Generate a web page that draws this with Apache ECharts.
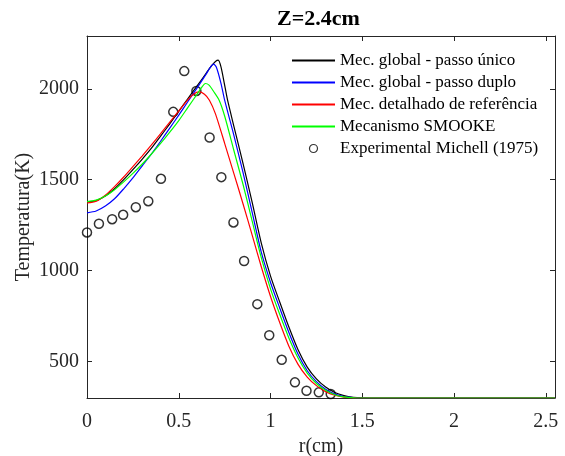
<!DOCTYPE html>
<html>
<head>
<meta charset="utf-8">
<script src="https://cdn.jsdelivr.net/npm/echarts@6/dist/echarts.min.js"></script>
<style>
    html, body { margin: 0; padding: 0; background: #fff; }
    #chart { width: 565px; height: 456px; }
</style>
</head>
<body>
<div id="chart"></div>
<script>
// Dados
var xTicks = [0, 0.5, 1, 1.5, 2, 2.5];
var yTicks = [500, 1000, 1500, 2000];

var seriesNames = [
    'Mec. global - passo único',
    'Mec. global - passo duplo',
    'Mec. detalhado de referência',
    'Mecanismo SMOOKE',
    'Experimental Michell (1975)'
];

// passo único (preto)
var rUnico = [0, 0.05, 0.1, 0.15, 0.2, 0.25, 0.3, 0.35, 0.4, 0.45, 0.5, 0.55, 0.6, 0.65, 0.68, 0.70, 0.715, 0.73, 0.75, 0.766, 0.8, 0.85, 0.9, 0.95, 1.0, 1.05, 1.1, 1.15, 1.2, 1.25, 1.3, 1.35, 1.4, 1.45, 1.5, 1.6, 2.55];
var tUnico = [1378, 1385, 1410, 1450, 1500, 1555, 1612, 1672, 1738, 1806, 1876, 1946, 2016, 2086, 2128, 2150, 2157, 2120, 2020, 1937, 1795, 1590, 1375, 1150, 970, 828, 690, 565, 470, 405, 360, 330, 313, 304, 301, 300, 300];

// passo duplo (azul)
var rDuplo = [0, 0.05, 0.1, 0.15, 0.2, 0.25, 0.3, 0.35, 0.4, 0.45, 0.5, 0.55, 0.6, 0.65, 0.67, 0.69, 0.705, 0.73, 0.75, 0.8, 0.85, 0.9, 0.95, 1.0, 1.05, 1.1, 1.15, 1.2, 1.25, 1.3, 1.35, 1.4, 1.45, 1.5, 1.6, 2.55];
var tDuplo = [1318, 1328, 1355, 1395, 1450, 1510, 1575, 1640, 1710, 1782, 1855, 1930, 2005, 2082, 2115, 2135, 2118, 2030, 1937, 1745, 1540, 1320, 1100, 935, 795, 660, 540, 450, 390, 348, 322, 308, 302, 300, 300, 300];

// detalhado (vermelho)
var rDetalhado = [0, 0.05, 0.1, 0.15, 0.2, 0.25, 0.3, 0.35, 0.4, 0.45, 0.5, 0.55, 0.58, 0.61, 0.64, 0.667, 0.7, 0.75, 0.8, 0.85, 0.9, 0.95, 1.0, 1.05, 1.1, 1.15, 1.2, 1.25, 1.3, 1.35, 1.4, 1.45, 1.5, 1.6, 2.55];
var tDetalhado = [1372, 1382, 1415, 1462, 1515, 1572, 1630, 1690, 1752, 1815, 1878, 1940, 1970, 1983, 1970, 1937, 1862, 1700, 1535, 1368, 1195, 1020, 858, 715, 585, 485, 415, 368, 335, 315, 305, 301, 300, 300, 300];

// SMOOKE (verde)
var rSmooke = [0, 0.05, 0.1, 0.15, 0.2, 0.25, 0.3, 0.35, 0.4, 0.45, 0.5, 0.55, 0.6, 0.625, 0.645, 0.665, 0.69, 0.72, 0.75, 0.8, 0.85, 0.9, 0.95, 1.0, 1.05, 1.1, 1.15, 1.2, 1.25, 1.3, 1.35, 1.4, 1.45, 1.5, 1.6, 2.55];
var tSmooke = [1380, 1388, 1410, 1445, 1488, 1535, 1585, 1640, 1698, 1760, 1825, 1898, 1970, 2008, 2029, 2020, 1985, 1937, 1850, 1662, 1475, 1272, 1070, 900, 760, 630, 520, 437, 380, 342, 318, 306, 301, 300, 300, 300];

// experimental
var rExp = [0, 0.065, 0.137, 0.197, 0.266, 0.334, 0.403, 0.47, 0.53, 0.596, 0.668, 0.732, 0.798, 0.856, 0.928, 0.993, 1.061, 1.133, 1.196, 1.263, 1.328];
var tExp = [1210, 1258, 1283, 1307, 1349, 1382, 1505, 1873, 2097, 1988, 1732, 1514, 1265, 1053, 816, 645, 510, 386, 340, 331, 322];

function zip(xs, ys) {
    return xs.map(function (x, i) { return [x, ys[i]]; });
}

var fonte = 'Liberation Serif';
var corEixo = '#262626';

function linha(nome, xs, ys, cor) {
    return {
        name: nome,
        type: 'line',
        data: zip(xs, ys),
        symbol: 'none',
        smooth: 0.25,
        lineStyle: { color: cor, width: 1.2 },
        itemStyle: { color: cor }
    };
}

var chart = echarts.init(document.getElementById('chart'));

// legenda: só a linha, sem o marcador
var legendData = seriesNames.map(function (nome, i) {
    if (i < 4) {
        return { name: nome, itemStyle: { opacity: 0 } };
    }
    return { name: nome, itemStyle: { borderWidth: 1.2 } };
});

var option = {
    backgroundColor: '#fff',
    animation: false,
    title: {
        text: 'Z=2.4cm',
        left: 277,
        top: 8,
        padding: 0,
        textStyle: { fontFamily: fonte, fontSize: 22, fontWeight: 'bold', color: '#000' }
    },
    grid: { left: 87, right: 10, top: 36, bottom: 58, outerBoundsMode: 'none', containLabel: false },
    legend: {
        orient: 'vertical',
        left: 291,
        top: 52,
        itemWidth: 43,
        itemHeight: 8,
        itemGap: 5,
        padding: 0,
        textStyle: { fontFamily: fonte, fontSize: 17, color: '#000', lineHeight: 16 },
        data: legendData
    },
    xAxis: [
        {
            type: 'value',
            min: 0,
            max: 2.55,
            interval: 0.5,
            name: 'r(cm)',
            nameLocation: 'middle',
            nameGap: 39,
            nameMoveOverlap: false,
            nameTextStyle: { fontFamily: fonte, fontSize: 20, color: '#262626' },
            axisLine: { show: true, onZero: false, lineStyle: { color: corEixo, width: 1 } },
            axisTick: { inside: true, length: 5, lineStyle: { color: corEixo } },
            axisLabel: {
                fontFamily: fonte, fontSize: 20, color: '#262626', margin: 14,
                customValues: xTicks,
                formatter: function (v) { return String(v); }
            },
            splitLine: { show: false }
        },
        {
            type: 'value',
            position: 'top',
            min: 0,
            max: 2.55,
            interval: 0.5,
            axisLine: { show: true, onZero: false, lineStyle: { color: corEixo, width: 1 } },
            axisTick: { inside: true, length: 5, lineStyle: { color: corEixo } },
            axisLabel: { show: false },
            splitLine: { show: false }
        }
    ],
    yAxis: [
        {
            type: 'value',
            min: 300,
            max: 2290,
            name: 'Temperatura(K)',
            nameLocation: 'middle',
            nameGap: 53,
            nameMoveOverlap: false,
            nameTextStyle: { fontFamily: fonte, fontSize: 20, color: '#262626' },
            axisLine: { show: true, onZero: false, lineStyle: { color: corEixo, width: 1 } },
            axisTick: { inside: true, length: 5, customValues: yTicks, lineStyle: { color: corEixo } },
            axisLabel: {
                fontFamily: fonte, fontSize: 20, color: '#262626', margin: 8,
                customValues: yTicks,
                formatter: function (v) { return String(v); }
            },
            splitLine: { show: false }
        },
        {
            type: 'value',
            position: 'right',
            min: 300,
            max: 2290,
            axisLine: { show: true, onZero: false, lineStyle: { color: corEixo, width: 1 } },
            axisTick: { inside: true, length: 5, customValues: yTicks, lineStyle: { color: corEixo } },
            axisLabel: { show: false },
            splitLine: { show: false }
        }
    ],
    series: [
        linha(seriesNames[0], rUnico, tUnico, '#000000'),
        linha(seriesNames[1], rDuplo, tDuplo, '#0000ff'),
        linha(seriesNames[2], rDetalhado, tDetalhado, '#ff0000'),
        linha(seriesNames[3], rSmooke, tSmooke, '#00ff00'),
        {
            name: seriesNames[4],
            type: 'scatter',
            data: zip(rExp, tExp),
            symbol: 'circle',
            symbolSize: 9,
            clip: false,
            itemStyle: { color: 'rgba(255,255,255,0)', borderColor: '#000', borderWidth: 1.5 }
        }
    ]
};

chart.setOption(option);
</script>
</body>
</html>
